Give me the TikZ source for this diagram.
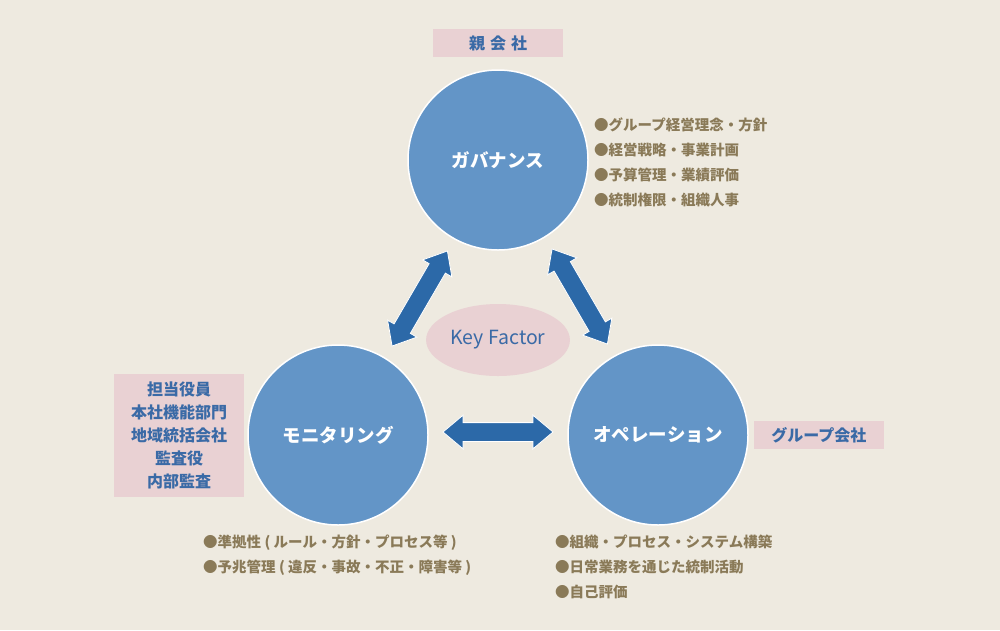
\documentclass[tikz,border=0pt]{standalone}
\usepackage{fontspec}
\setmainfont{Noto Sans CJK JP}
\usetikzlibrary{positioning,shapes.arrows,shapes.geometric}
\definecolor{paper}{HTML}{EEEAE0}
\definecolor{disc}{HTML}{6395C7}
\definecolor{deep}{HTML}{2C69A8}
\definecolor{blush}{HTML}{E9D1D3}
\definecolor{ink}{HTML}{3A6AA6}
\definecolor{olive}{HTML}{8A7A58}

\begin{document}
\begin{tikzpicture}[x=1pt, y=-1pt,
  circ/.style={circle, draw=white, line width=1.5pt, fill=disc, minimum size=180pt, text=white, font=\fontsize{18.5}{20}\selectfont\bfseries},
  tag/.style={fill=blush, text=ink, minimum width=130pt, minimum height=28pt, inner sep=0pt, font=\fontsize{16}{23}\selectfont\bfseries},
  notes/.style={text=olive, align=left, inner sep=0pt, anchor=north west, font=\fontsize{14.5}{25}\selectfont\bfseries},
  fat/.style={double arrow, fill=deep, draw=white, line width=0.8pt, minimum height=110pt, inner xsep=0pt, inner ysep=9pt, double arrow head extend=7.5pt, double arrow tip angle=80}
]
\fill[paper] (0,0) rectangle (1000,630);
\useasboundingbox (0,0) rectangle (1000,630);

% three circles
\node[circ] (gov) at (498,160) {ガバナンス};
\node[circ] (mon) at (338,435) {モニタリング};
\node[circ] (ope) at (658,435) {オペレーション};

% arrows between them
\path (gov) -- (mon) node[fat, midway, sloped, yshift=-2pt] (a1) {};
\path (gov) -- (ope) node[fat, midway, sloped, yshift=2pt] (a2) {};
\path (mon) -- (ope) node[fat, midway, yshift=3pt] (a3) {};

\node[ellipse, fill=blush, text=ink, minimum width=136pt, minimum height=72pt, font=\fontsize{19.5}{20}\selectfont] (key) at (498,340) {Key Factor};

% labels
\node[tag, above=12pt of gov] (parent) {親\hspace{5pt}会\hspace{5pt}社};
\node[tag, right=5pt of ope] (group) {グループ会社};
\node[tag, left=3pt of mon, align=center, minimum height=123pt] (staff) {担当役員\\本社機能部門\\地域統括会社\\監査役\\内部監査};

% notes
\node[notes] (govnote) at (594,118) {●グループ経営理念・方針\\●経営戦略・事業計画\\●予算管理・業績評価\\●統制権限・組織人事};
\node[notes] (monnote) at (203,535) {●準拠性 ( ルール・方針・プロセス等 )\\●予兆管理 ( 違反・事故・不正・障害等 )};
\node[notes] (openote) at (555,535) {●組織・プロセス・システム構築\\●日常業務を通じた統制活動\\●自己評価};
\end{tikzpicture}
\end{document}
